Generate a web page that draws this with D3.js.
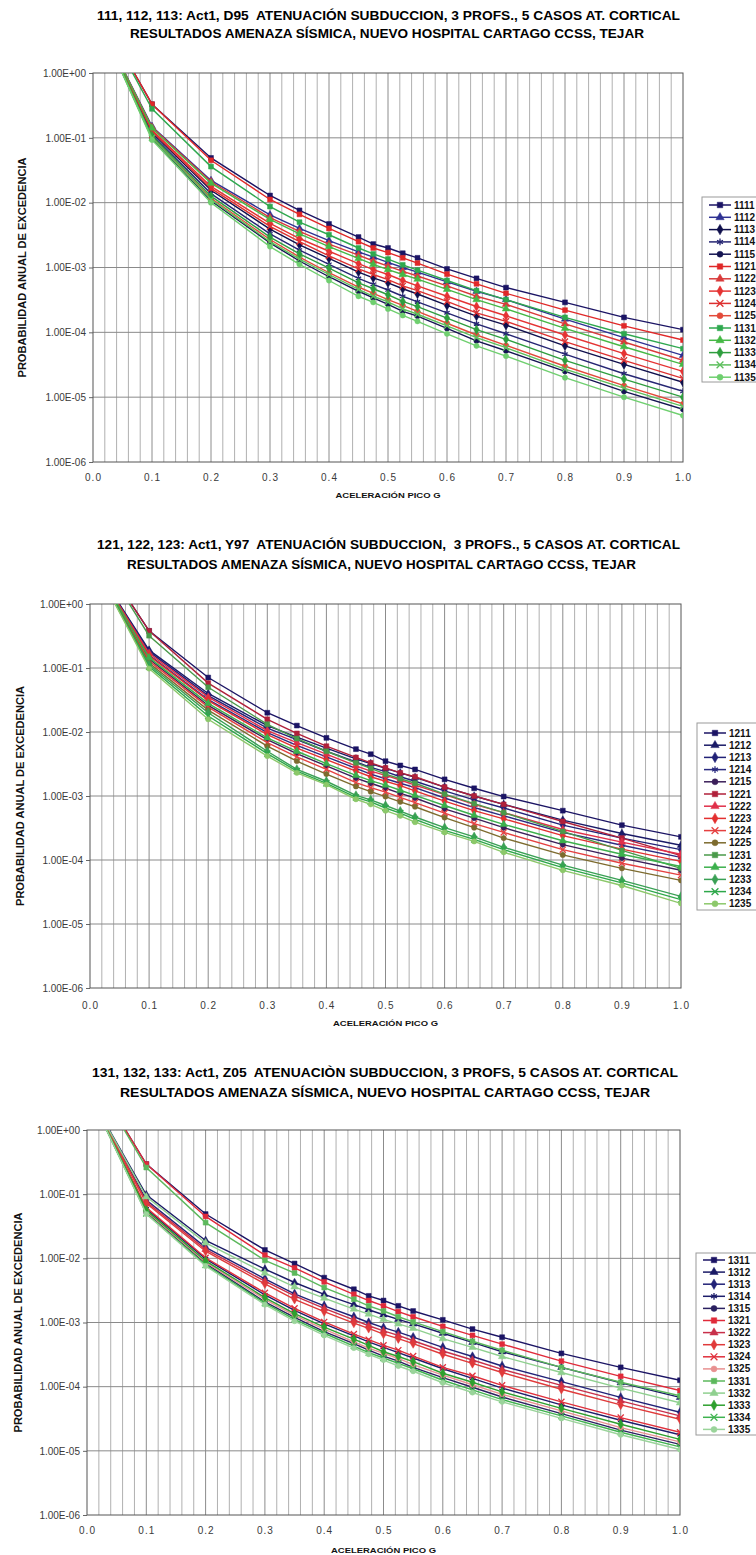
<!DOCTYPE html>
<html><head><meta charset="utf-8">
<script src="https://cdn.jsdelivr.net/npm/d3@7"></script>
<style>
body{margin:0;background:#fff}
svg{display:block}
text{font-family:"Liberation Sans",Arial,Helvetica,sans-serif}
</style>
</head><body>
<svg id="chart" width="756" height="1555"></svg>
<script>
// ---------------- DATA ----------------
const xValues = [0.01, 0.1, 0.2, 0.3, 0.35, 0.4, 0.45, 0.475, 0.5, 0.525, 0.55, 0.6, 0.65, 0.7, 0.8, 0.9, 1.0];
const xTickValues = [0,0.1,0.2,0.3,0.4,0.5,0.6,0.7,0.8,0.9,1.0];
const xTickLabels = ["0.0","0.1","0.2","0.3","0.4","0.5","0.6","0.7","0.8","0.9","1.0"];
const yTickValues = [1,1e-1,1e-2,1e-3,1e-4,1e-5,1e-6];
const yTickLabels = ["1.00E+00","1.00E-01","1.00E-02","1.00E-03","1.00E-04","1.00E-05","1.00E-06"];
const xAxisTitle = "ACELERACIÓN PICO G";
const yAxisTitle = "PROBABILIDAD ANUAL DE EXCEDENCIA";

const titles1 = ["111, 112, 113: Act1, D95  ATENUACIÓN SUBDUCCION, 3 PROFS., 5 CASOS AT. CORTICAL",
                 "RESULTADOS AMENAZA SÍSMICA, NUEVO HOSPITAL CARTAGO CCSS, TEJAR"];
const titles2 = ["121, 122, 123: Act1, Y97  ATENUACIÓN SUBDUCCION,  3 PROFS., 5 CASOS AT. CORTICAL",
                 "RESULTADOS AMENAZA SÍSMICA, NUEVO HOSPITAL CARTAGO CCSS, TEJAR"];
const titles3 = ["131, 132, 133: Act1, Z05  ATENUACIÒN SUBDUCCION, 3 PROFS, 5 CASOS AT. CORTICAL",
                 "RESULTADOS AMENAZA SÍSMICA, NUEVO HOSPITAL CARTAGO CCSS, TEJAR"];

const names1 = ["1111","1112","1113","1114","1115","1121","1122","1123","1124","1125","1131","1132","1133","1134","1135"];
const names2 = ["1211","1212","1213","1214","1215","1221","1222","1223","1224","1225","1231","1232","1233","1234","1235"];
const names3 = ["1311","1312","1313","1314","1315","1321","1322","1323","1324","1325","1331","1332","1333","1334","1335"];

// Panel 1
const v1111 = [9.1, 0.33, 4.9e-2, 1.29e-2, 7.6e-3, 4.7e-3, 2.95e-3, 2.3e-3, 2.0e-3, 1.66e-3, 1.41e-3, 9.5e-4, 6.8e-4, 4.9e-4, 2.9e-4, 1.7e-4, 1.1e-4];
const v1112 = [6.3, 0.15, 2.2e-2, 6.5e-3, 4.0e-3, 2.6e-3, 1.74e-3, 1.45e-3, 1.20e-3, 1.0e-3, 8.5e-4, 6.0e-4, 4.3e-4, 3.2e-4, 1.6e-4, 8.3e-5, 4.4e-5];
const v1113 = [6.3, 0.12, 1.55e-2, 3.9e-3, 2.24e-3, 1.38e-3, 8.5e-4, 6.9e-4, 5.8e-4, 4.7e-4, 3.9e-4, 2.6e-4, 1.78e-4, 1.29e-4, 6.2e-5, 3.2e-5, 1.7e-5];
const v1114 = [6.3, 0.112, 1.38e-2, 3.3e-3, 1.86e-3, 1.12e-3, 6.8e-4, 5.5e-4, 4.5e-4, 3.6e-4, 2.95e-4, 2.0e-4, 1.35e-4, 9.5e-5, 4.6e-5, 2.3e-5, 1.23e-5];
const v1115 = [6.3, 0.098, 1.07e-2, 2.4e-3, 1.26e-3, 7.2e-4, 4.3e-4, 3.4e-4, 2.7e-4, 2.1e-4, 1.78e-4, 1.15e-4, 7.4e-5, 5.2e-5, 2.5e-5, 1.23e-5, 6.5e-6];
const v1121 = [9.1, 0.33, 4.5e-2, 1.12e-2, 6.6e-3, 4.0e-3, 2.5e-3, 2.0e-3, 1.7e-3, 1.41e-3, 1.17e-3, 7.9e-4, 5.6e-4, 4.0e-4, 2.2e-4, 1.26e-4, 7.6e-5];
const v1122 = [6.3, 0.145, 2.1e-2, 5.9e-3, 3.6e-3, 2.3e-3, 1.55e-3, 1.26e-3, 1.05e-3, 8.7e-4, 7.4e-4, 5.2e-4, 3.6e-4, 2.7e-4, 1.35e-4, 7.1e-5, 3.7e-5];
const v1123 = [6.3, 0.132, 1.78e-2, 4.8e-3, 2.8e-3, 1.78e-3, 1.15e-3, 9.3e-4, 7.8e-4, 6.3e-4, 5.2e-4, 3.6e-4, 2.5e-4, 1.8e-4, 9.1e-5, 4.7e-5, 2.5e-5];
const v1124 = [6.3, 0.126, 1.66e-2, 4.3e-3, 2.5e-3, 1.51e-3, 9.5e-4, 7.8e-4, 6.5e-4, 5.2e-4, 4.4e-4, 3.0e-4, 2.0e-4, 1.48e-4, 7.2e-5, 3.7e-5, 1.95e-5];
const v1125 = [6.3, 0.102, 1.17e-2, 2.7e-3, 1.45e-3, 8.3e-4, 5.0e-4, 4.0e-4, 3.2e-4, 2.6e-4, 2.1e-4, 1.38e-4, 9.1e-5, 6.3e-5, 3.0e-5, 1.51e-5, 7.9e-6];
const v1131 = [9.1, 0.28, 3.6e-2, 8.7e-3, 5.0e-3, 3.2e-3, 2.0e-3, 1.62e-3, 1.35e-3, 1.10e-3, 9.1e-4, 6.3e-4, 4.4e-4, 3.2e-4, 1.7e-4, 9.5e-5, 5.6e-5];
const v1132 = [6.3, 0.141, 2.0e-2, 5.5e-3, 3.3e-3, 2.1e-3, 1.38e-3, 1.12e-3, 9.3e-4, 7.8e-4, 6.6e-4, 4.6e-4, 3.2e-4, 2.3e-4, 1.15e-4, 6.0e-5, 3.2e-5];
const v1133 = [6.3, 0.107, 1.26e-2, 2.95e-3, 1.62e-3, 9.8e-4, 5.8e-4, 4.7e-4, 3.8e-4, 3.0e-4, 2.5e-4, 1.66e-4, 1.10e-4, 7.8e-5, 3.7e-5, 1.9e-5, 1.0e-5];
const v1134 = [6.3, 0.10, 1.12e-2, 2.5e-3, 1.35e-3, 7.8e-4, 4.6e-4, 3.6e-4, 2.95e-4, 2.3e-4, 1.9e-4, 1.26e-4, 8.3e-5, 5.8e-5, 2.7e-5, 1.38e-5, 7.2e-6];
const v1135 = [6.3, 0.093, 1.0e-2, 2.1e-3, 1.12e-3, 6.3e-4, 3.6e-4, 2.9e-4, 2.3e-4, 1.82e-4, 1.48e-4, 9.5e-5, 6.2e-5, 4.3e-5, 2.0e-5, 1.0e-5, 5.2e-6];

// Panel 2
const v1211 = [6.9, 0.38, 7.1e-2, 2.0e-2, 1.26e-2, 8.1e-3, 5.4e-3, 4.5e-3, 3.5e-3, 3.0e-3, 2.6e-3, 1.82e-3, 1.32e-3, 9.8e-4, 5.9e-4, 3.5e-4, 2.3e-4];
const v1212 = [3.7, 0.19, 4.0e-2, 1.26e-2, 8.3e-3, 5.6e-3, 3.8e-3, 3.2e-3, 2.7e-3, 2.3e-3, 1.95e-3, 1.38e-3, 1.0e-3, 7.4e-4, 4.2e-4, 2.6e-4, 1.7e-4];
const v1213 = [3.7, 0.18, 3.7e-2, 1.15e-2, 7.6e-3, 5.0e-3, 3.4e-3, 2.8e-3, 2.4e-3, 2.0e-3, 1.7e-3, 1.2e-3, 8.7e-4, 6.5e-4, 3.5e-4, 2.2e-4, 1.45e-4];
const v1214 = [3.7, 0.16, 3.2e-2, 9.8e-3, 6.2e-3, 4.1e-3, 2.7e-3, 2.2e-3, 1.86e-3, 1.58e-3, 1.35e-3, 9.3e-4, 6.6e-4, 4.9e-4, 2.7e-4, 1.7e-4, 1.1e-4];
const v1215 = [3.7, 0.138, 2.6e-2, 7.6e-3, 4.6e-3, 2.95e-3, 1.9e-3, 1.58e-3, 1.32e-3, 1.1e-3, 9.3e-4, 6.3e-4, 4.5e-4, 3.2e-4, 1.74e-4, 1.07e-4, 6.9e-5];
const v1221 = [6.9, 0.38, 5.8e-2, 1.58e-2, 9.5e-3, 6.0e-3, 4.0e-3, 3.3e-3, 2.75e-3, 2.3e-3, 2.0e-3, 1.38e-3, 1.0e-3, 7.4e-4, 4.0e-4, 2.2e-4, 1.17e-4];
const v1222 = [3.7, 0.17, 3.5e-2, 1.05e-2, 6.8e-3, 4.5e-3, 2.95e-3, 2.45e-3, 2.1e-3, 1.78e-3, 1.48e-3, 1.05e-3, 7.4e-4, 5.5e-4, 3.0e-4, 1.9e-4, 1.23e-4];
const v1223 = [3.7, 0.155, 3.1e-2, 9.1e-3, 5.6e-3, 3.7e-3, 2.45e-3, 2.0e-3, 1.7e-3, 1.45e-3, 1.2e-3, 8.3e-4, 5.9e-4, 4.4e-4, 2.4e-4, 1.48e-4, 9.5e-5];
const v1224 = [3.7, 0.129, 2.45e-2, 6.8e-3, 4.1e-3, 2.6e-3, 1.62e-3, 1.35e-3, 1.15e-3, 9.5e-4, 7.9e-4, 5.4e-4, 3.7e-4, 2.7e-4, 1.45e-4, 8.9e-5, 5.8e-5];
const v1225 = [3.7, 0.12, 2.2e-2, 6.0e-3, 3.5e-3, 2.2e-3, 1.41e-3, 1.17e-3, 9.8e-4, 8.1e-4, 6.8e-4, 4.6e-4, 3.2e-4, 2.2e-4, 1.2e-4, 7.4e-5, 4.8e-5];
const v1231 = [6.9, 0.32, 5.0e-2, 1.32e-2, 7.9e-3, 5.0e-3, 3.3e-3, 2.7e-3, 2.2e-3, 1.86e-3, 1.58e-3, 1.07e-3, 7.6e-4, 5.5e-4, 2.8e-4, 1.41e-4, 7.4e-5];
const v1232 = [3.7, 0.145, 2.8e-2, 8.1e-3, 5.0e-3, 3.2e-3, 2.1e-3, 1.74e-3, 1.48e-3, 1.23e-3, 1.02e-3, 7.1e-4, 5.0e-4, 3.6e-4, 2.0e-4, 1.23e-4, 7.9e-5];
const v1233 = [3.7, 0.112, 2.0e-2, 5.0e-3, 2.6e-3, 1.7e-3, 1.02e-3, 8.7e-4, 7.1e-4, 5.8e-4, 4.7e-4, 3.2e-4, 2.3e-4, 1.58e-4, 8.3e-5, 4.8e-5, 2.7e-5];
const v1234 = [3.7, 0.105, 1.78e-2, 4.6e-3, 2.45e-3, 1.58e-3, 9.5e-4, 8.1e-4, 6.5e-4, 5.4e-4, 4.3e-4, 2.9e-4, 2.1e-4, 1.45e-4, 7.6e-5, 4.4e-5, 2.4e-5];
const v1235 = [3.7, 0.098, 1.58e-2, 4.2e-3, 2.3e-3, 1.51e-3, 8.9e-4, 7.4e-4, 5.9e-4, 4.9e-4, 3.9e-4, 2.7e-4, 1.95e-4, 1.32e-4, 6.9e-5, 4.0e-5, 2.1e-5];

// Panel 3
const v1311 = [6.8, 0.295, 4.9e-2, 1.35e-2, 8.3e-3, 5.0e-3, 3.3e-3, 2.6e-3, 2.2e-3, 1.82e-3, 1.51e-3, 1.1e-3, 7.9e-4, 5.9e-4, 3.3e-4, 2.0e-4, 1.26e-4];
const v1312 = [2.8, 9.8e-2, 1.9e-2, 6.8e-3, 4.2e-3, 2.75e-3, 1.9e-3, 1.58e-3, 1.32e-3, 1.12e-3, 9.5e-4, 6.8e-4, 4.9e-4, 3.5e-4, 2.0e-4, 1.15e-4, 6.8e-5];
const v1313 = [2.8, 8.1e-2, 1.48e-2, 4.8e-3, 2.8e-3, 1.82e-3, 1.23e-3, 1.0e-3, 8.3e-4, 7.1e-4, 5.9e-4, 4.1e-4, 2.95e-4, 2.1e-4, 1.2e-4, 6.8e-5, 4.0e-5];
const v1314 = [2.8, 5.9e-2, 9.8e-3, 2.7e-3, 1.55e-3, 9.5e-4, 6.2e-4, 5.0e-4, 4.1e-4, 3.4e-4, 2.8e-4, 1.9e-4, 1.35e-4, 9.5e-5, 5.2e-5, 3.0e-5, 1.78e-5];
const v1315 = [2.8, 5.2e-2, 8.3e-3, 2.1e-3, 1.2e-3, 7.2e-4, 4.7e-4, 3.7e-4, 3.0e-4, 2.5e-4, 2.0e-4, 1.38e-4, 9.8e-5, 6.9e-5, 3.8e-5, 2.1e-5, 1.26e-5];
const v1321 = [6.8, 0.295, 4.5e-2, 1.12e-2, 7.1e-3, 4.3e-3, 2.75e-3, 2.2e-3, 1.82e-3, 1.48e-3, 1.23e-3, 8.7e-4, 6.3e-4, 4.6e-4, 2.5e-4, 1.45e-4, 8.7e-5];
const v1322 = [2.8, 7.6e-2, 1.38e-2, 4.4e-3, 2.6e-3, 1.66e-3, 1.1e-3, 8.9e-4, 7.4e-4, 6.3e-4, 5.2e-4, 3.6e-4, 2.6e-4, 1.86e-4, 1.05e-4, 6.0e-5, 3.5e-5];
const v1323 = [2.8, 7.2e-2, 1.29e-2, 4.0e-3, 2.3e-3, 1.48e-3, 9.8e-4, 8.1e-4, 6.6e-4, 5.6e-4, 4.7e-4, 3.2e-4, 2.3e-4, 1.66e-4, 9.1e-5, 5.2e-5, 3.1e-5];
const v1324 = [2.8, 6.2e-2, 1.02e-2, 2.9e-3, 1.66e-3, 1.02e-3, 6.6e-4, 5.4e-4, 4.4e-4, 3.7e-4, 3.0e-4, 2.0e-4, 1.48e-4, 1.05e-4, 5.8e-5, 3.3e-5, 1.95e-5];
const v1325 = [2.8, 5.4e-2, 8.7e-3, 2.3e-3, 1.29e-3, 7.9e-4, 5.0e-4, 4.0e-4, 3.3e-4, 2.75e-4, 2.2e-4, 1.51e-4, 1.07e-4, 7.6e-5, 4.2e-5, 2.3e-5, 1.38e-5];
const v1331 = [6.8, 0.26, 3.6e-2, 9.3e-3, 5.9e-3, 3.5e-3, 2.3e-3, 1.82e-3, 1.51e-3, 1.23e-3, 1.02e-3, 7.2e-4, 5.1e-4, 3.7e-4, 2.0e-4, 1.17e-4, 7.2e-5];
const v1332 = [2.8, 9.1e-2, 1.74e-2, 5.9e-3, 3.6e-3, 2.4e-3, 1.62e-3, 1.35e-3, 1.12e-3, 9.5e-4, 8.1e-4, 5.6e-4, 4.1e-4, 2.95e-4, 1.66e-4, 9.5e-5, 5.6e-5];
const v1333 = [2.8, 5.6e-2, 9.1e-3, 2.45e-3, 1.38e-3, 8.5e-4, 5.5e-4, 4.4e-4, 3.5e-4, 2.95e-4, 2.45e-4, 1.62e-4, 1.17e-4, 8.3e-5, 4.6e-5, 2.6e-5, 1.51e-5];
const v1334 = [2.8, 5.0e-2, 7.9e-3, 2.0e-3, 1.12e-3, 6.8e-4, 4.3e-4, 3.4e-4, 2.8e-4, 2.3e-4, 1.9e-4, 1.26e-4, 8.9e-5, 6.3e-5, 3.5e-5, 1.95e-5, 1.15e-5];
const v1335 = [2.8, 4.9e-2, 7.6e-3, 1.9e-3, 1.05e-3, 6.3e-4, 4.0e-4, 3.2e-4, 2.6e-4, 2.1e-4, 1.74e-4, 1.15e-4, 8.1e-5, 5.8e-5, 3.2e-5, 1.78e-5, 1.05e-5];

const values1 = [v1111,v1112,v1113,v1114,v1115,v1121,v1122,v1123,v1124,v1125,v1131,v1132,v1133,v1134,v1135];
const values2 = [v1211,v1212,v1213,v1214,v1215,v1221,v1222,v1223,v1224,v1225,v1231,v1232,v1233,v1234,v1235];
const values3 = [v1311,v1312,v1313,v1314,v1315,v1321,v1322,v1323,v1324,v1325,v1331,v1332,v1333,v1334,v1335];

// ---------------- STYLE ----------------
const colors1 = ["#1b1464","#2e3192","#0f0f4c","#262673","#141452","#e02828","#d93a3a","#e53333","#dd3030","#e34a3a","#2fa84f","#45b845","#2e9e3e","#5cbf5c","#6fcf6f"];
const colors2 = ["#1b1464","#1a1a66","#222277","#2b2b80","#3b1f5a","#b0203a","#e0304a","#e33030","#e54040","#7d6b2e","#4a9a4a","#3cb04c","#3aa055","#2ea84a","#8cc86a"];
const colors3 = ["#1b1464","#1a1a66","#222277","#1d1d6a","#2a2060","#e02a3a","#c8304a","#e03a3a","#e0303c","#e89090","#5cb85c","#8fd08f","#2ea02e","#3fb34f","#9ad49a"];

const layouts = [
  {left:93,right:683,top:73,bottom:462,t1:16,t2:34,t1x:[97,680],t2x:[130,644],tickPad:11.5,xTitleY:495,yTitleX:22,
   leg:{x:702,top:197,bottom:382,row0:205,step:12.3}},
  {left:90,right:681,top:604,bottom:988,t1:545,t2:565,t1x:[97,680],t2x:[127,636],tickPad:13.5,xTitleY:1023,yTitleX:20,
   leg:{x:697,top:723,bottom:910,row0:733,step:12.2}},
  {left:87,right:680,top:1130,bottom:1515,t1:1073,t2:1093,t1x:[92,678],t2x:[120,650],tickPad:11.5,xTitleY:1550,yTitleX:18,
   leg:{x:696,top:1253,bottom:1435,row0:1260,step:12.1}}
];

const panels = [
  {titles:titles1, names:names1, values:values1, colors:colors1},
  {titles:titles2, names:names2, values:values2, colors:colors2},
  {titles:titles3, names:names3, values:values3, colors:colors3}
];

const symX = d3.symbolX || d3.symbolCross;
const symAst = d3.symbolAsterisk || d3.symbolCross;
function markerFor(name){
  const c = name.charAt(3);
  const d = name.charAt(2);
  if (c === "1") return {type:d3.symbolSquare, size:24, stroke:false};
  if (c === "2") return {type:d3.symbolTriangle, size:24, stroke:false};
  if (c === "3") return {type:d3.symbolDiamond, size:26, stroke:false};
  if (c === "4") return {type:(d === "1" ? symAst : symX), size:26, stroke:true};
  return {type:d3.symbolCircle, size:22, stroke:false};
}

const svg = d3.select("#chart");
svg.append("rect").attr("width",756).attr("height",1555).attr("fill","#fff");

panels.forEach((P, pi) => {
  const L = layouts[pi];
  const g = svg.append("g");
  const x = d3.scaleLinear().domain([0,1]).range([L.left, L.right]);
  const y = d3.scaleLog().domain([1e-6,1]).range([L.bottom, L.top]);

  // titles
  [0,1].forEach(k => {
    const span = k === 0 ? L.t1x : L.t2x;
    g.append("text")
      .attr("x", (span[0]+span[1])/2).attr("y", k === 0 ? L.t1 : L.t2)
      .attr("text-anchor","middle").attr("dominant-baseline","central")
      .attr("font-size", 12).attr("font-weight","bold").attr("fill","#000")
      .style("white-space","pre")
      .attr("textLength", span[1]-span[0]).attr("lengthAdjust","spacingAndGlyphs")
      .text(P.titles[k]);
  });

  // grid
  const grid = g.append("g");
  d3.range(1,50).map(i => i/50).forEach(v => {
    const major = Math.abs(v*10 - Math.round(v*10)) < 1e-6;
    grid.append("line").attr("x1", x(v)).attr("x2", x(v)).attr("y1", L.top).attr("y2", L.bottom)
      .attr("stroke", major ? "#8c8c8c" : "#b0b0b0").attr("stroke-width", 1);
  });
  yTickValues.slice(1,-1).forEach(v => {
    grid.append("line").attr("x1", L.left).attr("x2", L.right).attr("y1", y(v)).attr("y2", y(v))
      .attr("stroke","#8a8a8a").attr("stroke-width",1);
  });

  // axes
  const yAxis = d3.axisLeft(y).tickValues(yTickValues).tickFormat((d,i) => yTickLabels[i]).tickSize(4).tickPadding(3);
  const ya = g.append("g").attr("transform",`translate(${L.left},0)`).call(yAxis);
  ya.select(".domain").remove();
  ya.selectAll("line").attr("stroke","#666");
  ya.selectAll("text").attr("font-size",10).attr("fill","#3a3a3a").attr("font-family","Liberation Sans, Arial, sans-serif");

  const xAxis = d3.axisBottom(x).tickValues(xTickValues).tickFormat((d,i) => xTickLabels[i]).tickSize(0).tickPadding(L.tickPad);
  const xa = g.append("g").attr("transform",`translate(0,${L.bottom})`).call(xAxis);
  xa.select(".domain").remove();
  xa.selectAll("text").attr("font-size",10).attr("fill","#3a3a3a").attr("font-family","Liberation Sans, Arial, sans-serif")
    .style("letter-spacing","1px");

  // border
  g.append("rect").attr("x", L.left).attr("y", L.top).attr("width", L.right-L.left).attr("height", L.bottom-L.top)
    .attr("fill","none").attr("stroke","#555").attr("stroke-width",1);

  // axis titles
  g.append("text").attr("x", (L.left+L.right)/2).attr("y", L.xTitleY)
    .attr("text-anchor","middle").attr("dominant-baseline","central")
    .attr("font-size",7.5).attr("font-weight","bold").attr("fill","#111")
    .attr("textLength",105).attr("lengthAdjust","spacingAndGlyphs").text(xAxisTitle);
  g.append("text").attr("transform",`translate(${L.yTitleX},${(L.top+L.bottom)/2}) rotate(-90)`)
    .attr("text-anchor","middle").attr("dominant-baseline","central")
    .attr("font-size",10).attr("font-weight","bold").attr("fill","#111")
    .attr("textLength",220).attr("lengthAdjust","spacingAndGlyphs").text(yAxisTitle);

  // clip
  const clipId = "clip" + pi;
  svg.append("clipPath").attr("id", clipId).append("rect")
    .attr("x", L.left).attr("y", L.top).attr("width", L.right-L.left).attr("height", L.bottom-L.top);
  const plot = g.append("g").attr("clip-path", `url(#${clipId})`);

  const line = d3.line().x(d => x(d[0])).y(d => y(d[1]));
  P.names.forEach((name, si) => {
    const pts = xValues.map((xv,i) => [xv, P.values[si][i]]);
    const col = P.colors[si];
    plot.append("path").attr("d", line(pts)).attr("fill","none").attr("stroke", col).attr("stroke-width",1.4);
    const m = markerFor(name);
    const sym = d3.symbol().type(m.type).size(m.size);
    pts.filter(p => p[1] <= 1).forEach(p => {
      plot.append("path").attr("d", sym()).attr("transform",`translate(${x(p[0])},${y(p[1])})`)
        .attr("fill", m.stroke ? "none" : col).attr("stroke", col).attr("stroke-width", m.stroke ? 1.3 : 0.5);
    });
  });

  // legend
  const lg = g.append("g");
  lg.append("rect").attr("x", L.leg.x).attr("y", L.leg.top).attr("width", 80).attr("height", L.leg.bottom-L.leg.top)
    .attr("fill","#fff").attr("stroke","#9a9a9a").attr("stroke-width",1);
  P.names.forEach((name, si) => {
    const yy = L.leg.row0 + si*L.leg.step;
    const col = P.colors[si];
    lg.append("line").attr("x1", L.leg.x+7).attr("x2", L.leg.x+29).attr("y1", yy).attr("y2", yy)
      .attr("stroke", col).attr("stroke-width",1.5);
    const m = markerFor(name);
    lg.append("path").attr("d", d3.symbol().type(m.type).size(m.size+6)())
      .attr("transform",`translate(${L.leg.x+18},${yy})`)
      .attr("fill", m.stroke ? "none" : col).attr("stroke", col).attr("stroke-width", m.stroke ? 1.3 : 0.5);
    lg.append("text").attr("x", L.leg.x+32).attr("y", yy).attr("dominant-baseline","central")
      .attr("font-size",10).attr("font-weight","bold").attr("fill","#111").text(name);
  });
});
</script>
</body></html>
